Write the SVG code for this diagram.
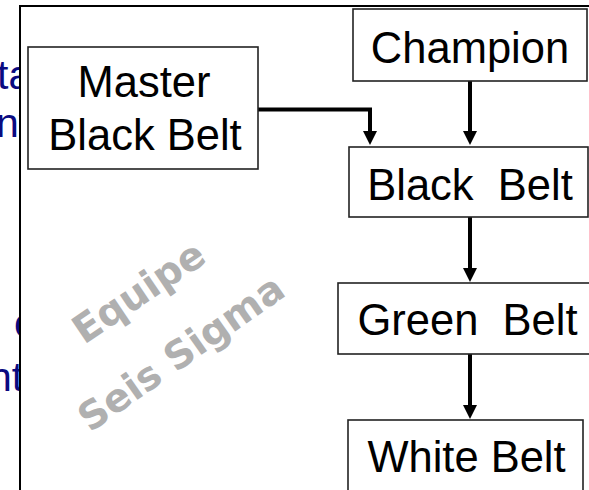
<svg xmlns="http://www.w3.org/2000/svg" width="589" height="490" viewBox="0 0 589 490">
  <style>
    .bg-text { font-family: "Liberation Sans", Arial, sans-serif; font-size: 41px; fill: #0a0a80; }
    .box { fill: #ffffff; stroke: #222222; stroke-width: 1.6; }
    .label { font-family: "Liberation Sans", Arial, sans-serif; font-size: 43.5px; fill: #000000; text-anchor: middle; white-space: pre; }
    .conn { fill: none; stroke: #000000; stroke-width: 4; }
    .wm { font-family: "DejaVu Sans", sans-serif; font-weight: bold; font-size: 39px; fill: #b0b0b0; }
  </style>
  <defs>
    <marker id="arrow" viewBox="0 0 14 14" refX="1" refY="7" markerWidth="14" markerHeight="14" markerUnits="userSpaceOnUse" orient="auto">
      <path d="M0,0 L14,7 L0,14 Z" fill="#000000"/>
    </marker>
  </defs>
  <rect x="0" y="0" width="589" height="490" fill="#ffffff"/>
  <g id="background-text">
    <text class="bg-text" x="-3" y="89">ta</text>
    <text class="bg-text" x="-4" y="137">nv</text>
    <text class="bg-text" x="14" y="337">c</text>
    <text class="bg-text" x="-11" y="391">nt</text>
  </g>
  <g id="panel">
    <rect x="20" y="6" width="580" height="500" fill="#ffffff"/>
    <line x1="20" y1="6" x2="589" y2="6" stroke="#000000" stroke-width="2"/>
    <line x1="20" y1="5" x2="20" y2="490" stroke="#000000" stroke-width="2"/>
  </g>
  <g id="watermark">
    <text class="wm" transform="translate(84,345) rotate(-34)">Equipe</text>
    <text class="wm" transform="translate(90,433) rotate(-35)">Seis Sigma</text>
  </g>
  <g id="connectors">
    <path class="conn" d="M258,109.5 H370 V132" marker-end="url(#arrow)"/>
    <path class="conn" d="M470,81 V132" marker-end="url(#arrow)"/>
    <path class="conn" d="M470,217 V269" marker-end="url(#arrow)"/>
    <path class="conn" d="M470,354 V406" marker-end="url(#arrow)"/>
  </g>
  <g id="node-master-black-belt">
    <rect class="box" x="28" y="47" width="230" height="122"/>
    <text class="label" x="144" y="97">Master</text>
    <text class="label" x="145" y="150">Black Belt</text>
  </g>
  <g id="node-champion">
    <rect class="box" x="353" y="9" width="234" height="72"/>
    <text class="label" x="470" y="63">Champion</text>
  </g>
  <g id="node-black-belt">
    <rect class="box" x="349" y="147" width="239" height="70"/>
    <text class="label" x="470" y="200">Black  Belt</text>
  </g>
  <g id="node-green-belt">
    <rect class="box" x="338" y="283" width="270" height="71"/>
    <text class="label" x="467.5" y="335">Green  Belt</text>
  </g>
  <g id="node-white-belt">
    <rect class="box" x="348" y="420" width="235" height="90"/>
    <text class="label" x="466.5" y="472">White Belt</text>
  </g>
</svg>
